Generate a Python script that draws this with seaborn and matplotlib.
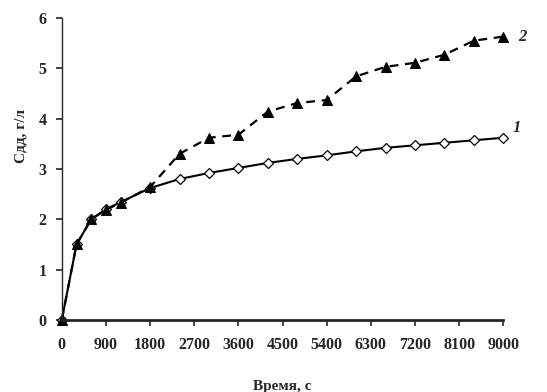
import matplotlib
matplotlib.use("Agg")
import matplotlib.pyplot as plt
import seaborn as sns
import pandas as pd

# Время, с
TIME = [0, 300, 600, 900, 1200, 1800, 2400, 3000, 3600, 4200,
        4800, 5400, 6000, 6600, 7200, 7800, 8400, 9000]
# кривая 1 (ромбы, сплошная)
CURVE_1 = [0, 1.5, 2.0, 2.2, 2.34, 2.62, 2.80, 2.92, 3.02, 3.12,
           3.20, 3.27, 3.35, 3.42, 3.47, 3.52, 3.57, 3.62]
# кривая 2 (треугольники, пунктир)
CURVE_2 = [0, 1.5, 2.0, 2.19, 2.33, 2.64, 3.30, 3.62, 3.68, 4.14,
           4.31, 4.37, 4.84, 5.03, 5.11, 5.27, 5.55, 5.63]
X_TICKS = [0, 900, 1800, 2700, 3600, 4500, 5400, 6300, 7200, 8100, 9000]
Y_TICKS = [0, 1, 2, 3, 4, 5, 6]

sns.set_style("ticks")
plt.rcParams["font.family"] = ["Liberation Serif", "DejaVu Serif"]

df = pd.DataFrame({"t": TIME, "c1": CURVE_1, "c2": CURVE_2})

fig = plt.figure(figsize=(5.47, 3.92), dpi=100)
ax = fig.add_axes([0.113, 0.184, 0.807, 0.770])

sns.lineplot(data=df, x="t", y="c1", ax=ax, color="black", lw=1.5,
             marker="D", markersize=5, markerfacecolor="white",
             markeredgecolor="black", markeredgewidth=0.9, clip_on=False)
sns.lineplot(data=df, x="t", y="c2", ax=ax, color="black", lw=1.6,
             linestyle=(0, (4, 3)), marker="^", markersize=7,
             markerfacecolor="black", markeredgecolor="black", clip_on=False)

ax.set_xlim(0, 9000)
ax.set_ylim(0, 6)
ax.set_xticks(X_TICKS)
ax.set_yticks(Y_TICKS)
ax.tick_params(direction="out", length=4, width=1.2, labelsize=11.5)
for lab in ax.get_xticklabels() + ax.get_yticklabels():
    lab.set_fontweight("bold")
ax.tick_params(axis="x", pad=8)
ax.tick_params(axis="y", pad=7)
ax.spines["bottom"].set_linewidth(2)
ax.spines["left"].set_linewidth(1)
sns.despine(ax=ax)
ax.set_xlabel("Время, с", fontsize=11, fontweight="bold", labelpad=20)
ax.set_ylabel("Сдд, г/л", fontsize=11, fontweight="bold")
ax.yaxis.set_label_coords(-0.077, 0.61)

ax.text(9300, CURVE_2[-1], "2", fontsize=12, fontstyle="italic",
        fontweight="bold", va="center", ha="left", clip_on=False)
ax.text(9200, CURVE_1[-1] + 0.2, "1", fontsize=12, fontstyle="italic",
        fontweight="bold", va="center", ha="left", clip_on=False)

fig.savefig("out.png", dpi=100)
